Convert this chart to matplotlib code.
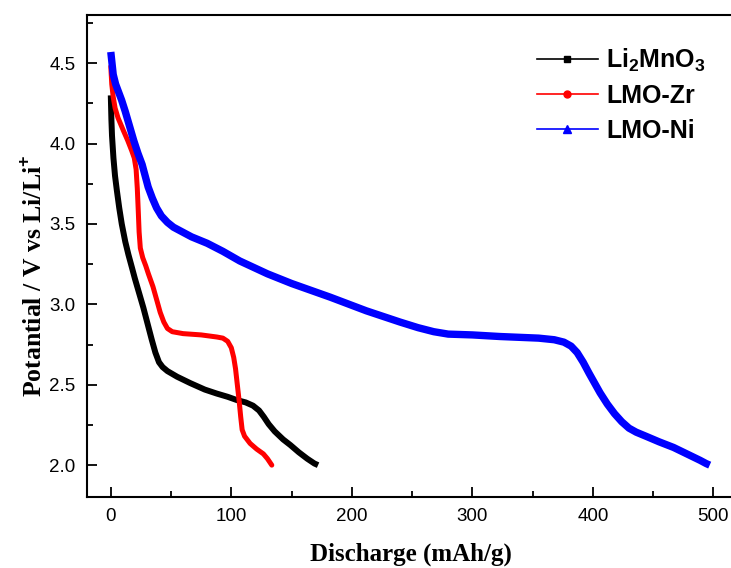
import matplotlib
matplotlib.use("Agg")
import matplotlib.pyplot as plt
from matplotlib.lines import Line2D
from matplotlib.ticker import MultipleLocator

plt.rcParams["mathtext.fontset"] = "custom"
plt.rcParams["mathtext.rm"] = "Liberation Serif:bold"
plt.rcParams["mathtext.sf"] = "Liberation Sans:bold"

# discharge capacity (mAh/g) vs potential (V)
lmo_x = [0, 0.5, 1, 2.2, 3.5, 5, 7, 9.1, 12, 14.6, 17.5, 20, 23.5, 27, 30.5, 34, 37, 40, 43, 47,
         55, 66, 78, 88, 97, 104.5, 112, 118, 123, 127, 131, 136, 143, 149, 156, 163, 169, 172]
lmo_y = [4.30, 4.15, 4.05, 3.91, 3.80, 3.71, 3.60, 3.50, 3.39, 3.31, 3.23, 3.16, 3.07, 2.98, 2.88,
         2.78, 2.70, 2.64, 2.61, 2.585, 2.55, 2.51, 2.47, 2.445, 2.425, 2.405, 2.39, 2.37, 2.34,
         2.30, 2.255, 2.21, 2.16, 2.125, 2.08, 2.04, 2.01, 2.0]

zr_x = [0, 0.8, 2, 3.6, 6, 10.5, 14, 17.4, 19.5, 21, 22, 22.8, 23.5, 24.5, 26.5, 29, 31.2, 35,
        38.2, 41, 44, 47, 51, 60, 75, 88, 93, 97, 100, 102, 103.5, 105, 106.5, 107.8, 109, 111,
        115.6, 121, 126.6, 130, 133.6]
zr_y = [4.48, 4.37, 4.29, 4.22, 4.16, 4.08, 4.02, 3.955, 3.91, 3.84, 3.72, 3.58, 3.45, 3.35, 3.29,
        3.24, 3.19, 3.11, 3.025, 2.95, 2.89, 2.85, 2.83, 2.818, 2.81, 2.797, 2.79, 2.77, 2.73,
        2.67, 2.60, 2.50, 2.40, 2.30, 2.22, 2.18, 2.135, 2.10, 2.07, 2.04, 2.0]

ni_x = [0, 1, 2, 4, 6, 9, 12, 15.5, 19, 22.5, 26, 28.5, 31, 34.5, 38, 42, 47, 52, 57, 67, 80, 93,
        107, 130, 150, 182, 212, 240, 255, 268, 280, 300, 323, 355, 368, 376, 382, 387, 392, 397,
        406, 412, 418, 424, 430, 436, 444, 455, 467, 478, 489, 494, 497]
ni_y = [4.57, 4.50, 4.43, 4.37, 4.33, 4.27, 4.20, 4.11, 4.02, 3.94, 3.87, 3.80, 3.73, 3.66, 3.60,
        3.55, 3.51, 3.48, 3.46, 3.42, 3.38, 3.33, 3.27, 3.19, 3.13, 3.045, 2.96, 2.89, 2.855, 2.83,
        2.815, 2.81, 2.80, 2.79, 2.78, 2.765, 2.74, 2.70, 2.64, 2.57, 2.45, 2.38, 2.32, 2.27, 2.23,
        2.205, 2.18, 2.145, 2.11, 2.07, 2.03, 2.01, 2.0]

fig = plt.figure(figsize=(7.31, 5.68), dpi=100)
ax = fig.add_axes([0.1186, 0.1245, 0.8869, 0.8491])

ax.plot(lmo_x, lmo_y, color="black", lw=4.3, solid_capstyle="butt", solid_joinstyle="round")
ax.plot(zr_x, zr_y, color="red", lw=3.6, solid_capstyle="round", solid_joinstyle="round")
ax.plot(ni_x, ni_y, color="blue", lw=5.3, solid_capstyle="butt", solid_joinstyle="round")

ax.set_xlim(-20, 518)
ax.set_ylim(1.8, 4.8)
ax.xaxis.set_major_locator(MultipleLocator(100))
ax.xaxis.set_minor_locator(MultipleLocator(50))
ax.yaxis.set_major_locator(MultipleLocator(0.5))
ax.yaxis.set_minor_locator(MultipleLocator(0.25))
ax.tick_params(which="both", direction="in", top=False, right=False, width=1.3,
               labelsize=13.5, pad=8)
ax.tick_params(which="major", length=7)
ax.tick_params(which="minor", length=4.5)
for lab in ax.get_xticklabels() + ax.get_yticklabels():
    lab.set_family("Liberation Sans")
ax.spines["right"].set_visible(False)
for s in ["left", "bottom", "top"]:
    ax.spines[s].set_linewidth(1.5)

ax.set_xlabel("Discharge (mAh/g)", family="Liberation Serif", weight="bold", fontsize=18)
ax.set_ylabel(r"Potantial / V vs Li/Li$^{\mathsf{+}}$", family="Liberation Serif",
              weight="bold", fontsize=18.5)
ax.xaxis.set_label_coords(0.5, -0.093)
ax.yaxis.set_label_coords(-0.063, 0.46)

handles = [
    Line2D([], [], color="black", lw=1.2, marker="s", markersize=5),
    Line2D([], [], color="red", lw=1.2, marker="o", markersize=5),
    Line2D([], [], color="blue", lw=1.2, marker="^", markersize=6),
]
labels = [r"$\mathsf{Li_2MnO_3}$", "LMO-Zr", "LMO-Ni"]
leg = fig.legend(handles, labels, loc="upper left", bbox_to_anchor=(514 / 731, 1 - 24 / 568),
                 frameon=False, handlelength=2.45, handletextpad=0.35, labelspacing=0.42,
                 prop={"family": "Liberation Sans", "weight": "bold", "size": 18})

plt.savefig("out.png", dpi=100)
